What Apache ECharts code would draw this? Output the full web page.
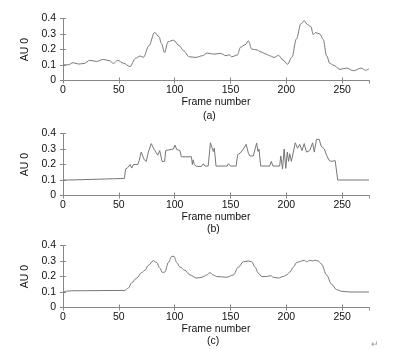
<!DOCTYPE html>
<html>
<head>
<meta charset="utf-8">
<script src="https://cdn.jsdelivr.net/npm/echarts@6/dist/echarts.min.js"></script>
<style>html,body{margin:0;padding:0;background:#fff;}#c{width:406px;height:349px;}</style>
</head>
<body>
<div id="c"></div>
<script>
// Panel (a)
const framesA = [0,5,9,14,19,24,30,36,42,45,49,54,60,65,69,72,77,82,86,88,91,94,99,104,108,113,119,125,129,135,141,146,149,151,156,159,163,166,169,174,177,182,185,189,193,197,201,205,209,213,216,219,222,224,226,230,233,236,239,242,248,254,260,267,271,274];
const valuesA = [0.10,0.102,0.115,0.106,0.11,0.13,0.123,0.136,0.127,0.11,0.13,0.112,0.09,0.143,0.158,0.15,0.225,0.31,0.283,0.24,0.18,0.25,0.26,0.225,0.192,0.153,0.149,0.16,0.177,0.17,0.175,0.16,0.166,0.153,0.164,0.215,0.23,0.255,0.203,0.197,0.185,0.17,0.16,0.149,0.162,0.132,0.105,0.15,0.268,0.366,0.385,0.36,0.348,0.296,0.309,0.30,0.265,0.16,0.11,0.10,0.072,0.08,0.063,0.08,0.066,0.075];
// Panel (b)
const framesB = [0,6,7,55,56,58,59,60,61.5,63,67,68,70,72.8,74.6,76.4,79,81.8,84.8,86.6,88.7,91,92,98.8,100.3,101.8,104.7,106,115,115.8,116.6,117.5,119.6,124,125.6,127,130,132,133.7,134.6,135.5,137,147,148,150,155,156.4,158.6,161,164,166,167.4,170.4,172,173.4,174.6,175.5,177,185,186.5,188,194,195,196.6,198,199.5,200.8,202,203,204.5,206,208,210,212,214,216,218,221,223.5,225,227,229.5,231,234,236,238,240,243.7,245,246,268,269,274];
const valuesB = [0.10,0.10,0.11,0.11,0.17,0.18,0.18,0.20,0.177,0.20,0.20,0.22,0.28,0.23,0.22,0.28,0.335,0.295,0.26,0.29,0.22,0.22,0.29,0.30,0.325,0.297,0.29,0.25,0.25,0.20,0.23,0.20,0.188,0.188,0.205,0.19,0.19,0.34,0.33,0.284,0.305,0.19,0.19,0.205,0.19,0.19,0.263,0.273,0.295,0.33,0.273,0.255,0.255,0.30,0.338,0.284,0.30,0.19,0.19,0.22,0.19,0.19,0.255,0.17,0.30,0.175,0.28,0.22,0.27,0.22,0.22,0.34,0.305,0.33,0.29,0.335,0.28,0.29,0.34,0.28,0.362,0.362,0.32,0.30,0.26,0.23,0.22,0.225,0.22,0.10,0.10,0.105,0.10];
// Panel (c)
const framesC = [0,3,8,55,58.5,61.5,66,70.4,73.4,76.4,80.9,83.9,86.8,89.2,91.3,94.3,97.3,99.4,101.8,104.8,109.2,113.7,119.7,124.2,128.7,131.6,134.6,137.6,146.5,152.5,157,161.5,166,169,172,175,178,182.4,186,188.3,192.8,197.3,200.3,203.3,206.2,209.2,213.7,215.8,218.1,221,223.2,225.6,228.5,231.5,236,240.5,245,249.5,257,274];
const valuesC = [0.10,0.105,0.108,0.11,0.125,0.16,0.19,0.225,0.24,0.272,0.302,0.29,0.253,0.225,0.23,0.29,0.33,0.33,0.29,0.26,0.24,0.21,0.19,0.195,0.21,0.225,0.21,0.20,0.195,0.21,0.26,0.295,0.30,0.295,0.26,0.22,0.20,0.20,0.205,0.195,0.19,0.20,0.21,0.23,0.26,0.29,0.30,0.305,0.295,0.305,0.30,0.305,0.30,0.28,0.21,0.15,0.115,0.105,0.10,0.10];

const xTicks = [0,50,100,150,200,250];
const yTicks = [0,0.1,0.2,0.3,0.4];
const xLabel = 'Frame number';
const yLabel = 'AU 0';
const panelLabels = ['(a)','(b)','(c)'];

const FONT = 'Liberation Sans, Arial, sans-serif';
const AXIS_COLOR = '#888888';
const LINE_COLOR = '#777777';
const grids = [
  {left:63, top:18.5, width:306, height:62},
  {left:63, top:133.5, width:306, height:62},
  {left:63, top:245.5, width:306, height:62}
];
const panels = [
  {f:framesA, v:valuesA, smooth:0.35},
  {f:framesB, v:valuesB, smooth:false},
  {f:framesC, v:valuesC, smooth:0.35}
];
const xAxis = [], yAxis = [], series = [], graphic = [];
grids.forEach((g,i)=>{
  xAxis.push({type:'value', gridIndex:i, min:0, max:274, interval:50, position:'bottom',
    axisLine:{show:true, lineStyle:{color:AXIS_COLOR, width:1}},
    axisTick:{show:true, inside:true, length:3, lineStyle:{color:AXIS_COLOR}},
    splitLine:{show:false},
    axisLabel:{color:'#111', fontFamily:FONT, fontSize:10.5, margin:4, showMaxLabel:false,
      formatter:v=> xTicks.indexOf(v)>=0 ? String(v) : ''},
    name:xLabel, nameLocation:'middle', nameGap:16,
    nameTextStyle:{color:'#111', fontFamily:FONT, fontSize:10.5}
  });
  xAxis.push({type:'value', gridIndex:i, min:0, max:274, interval:50, position:'top',
    axisLine:{show:true, lineStyle:{color:AXIS_COLOR, width:1}},
    axisTick:{show:true, inside:true, length:3, lineStyle:{color:AXIS_COLOR}},
    splitLine:{show:false}, axisLabel:{show:false}
  });
  yAxis.push({type:'value', gridIndex:i, min:0, max:0.4, interval:0.1, position:'left',
    axisLine:{show:true, lineStyle:{color:AXIS_COLOR, width:1}},
    axisTick:{show:true, inside:true, length:3, lineStyle:{color:AXIS_COLOR}},
    splitLine:{show:false},
    axisLabel:{color:'#111', fontFamily:FONT, fontSize:10.5, margin:7,
      formatter:v=>{const t=yTicks.find(y=>Math.abs(y-v)<1e-9); return t===undefined?'':(t===0?'0':t.toFixed(1));}},
    name:yLabel, nameLocation:'middle', nameGap:22, nameRotate:90,
    nameTextStyle:{color:'#111', fontFamily:FONT, fontSize:10.5}
  });
  yAxis.push({type:'value', gridIndex:i, min:0, max:0.4, interval:0.1, position:'right',
    axisLine:{show:true, lineStyle:{color:AXIS_COLOR, width:1}},
    axisTick:{show:true, inside:true, length:3, lineStyle:{color:AXIS_COLOR}},
    splitLine:{show:false}, axisLabel:{show:false}
  });
  const p = panels[i];
  series.push({type:'line', xAxisIndex:2*i, yAxisIndex:2*i, showSymbol:false, symbol:'none',
    smooth:p.smooth, smoothMonotone: p.smooth ? 'x' : undefined,
    lineStyle:{color:LINE_COLOR, width:1}, data:p.f.map((f,k)=>[f,p.v[k]])});
});
graphic.push({type:'text', left:203, top:111, style:{text:panelLabels[0], fill:'#111', font:'10.5px '+FONT}});
graphic.push({type:'text', left:207, top:224, style:{text:panelLabels[1], fill:'#111', font:'10.5px '+FONT}});
graphic.push({type:'text', left:207, top:336, style:{text:panelLabels[2], fill:'#111', font:'10.5px '+FONT}});
graphic.push({type:'text', left:371, top:340, style:{text:'↵', fill:'#999', font:'9px '+FONT}});

const chart = echarts.init(document.getElementById('c'), null, {renderer:'canvas'});
chart.setOption({animation:false, backgroundColor:'#fff', grid:grids, xAxis, yAxis, series, graphic});
</script>
</body>
</html>
